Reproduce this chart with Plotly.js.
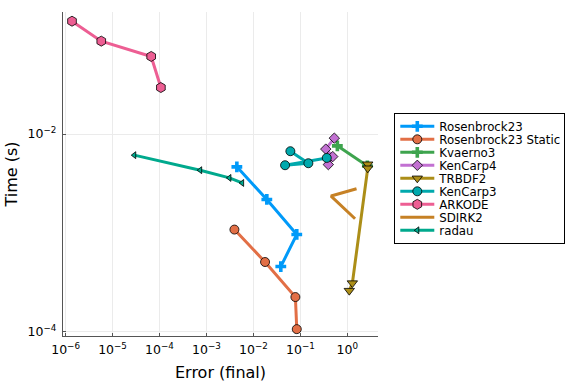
<!DOCTYPE html>
<html>
<head>
<meta charset="utf-8">
<script src="https://cdn.plot.ly/plotly-3.0.1.min.js"></script>
<style>html,body{margin:0;padding:0;background:#fff;}#plot{width:576px;height:384px;}</style>
</head>
<body>
<div id="plot"></div>
<script>
// Series names (legend order)
const seriesNames = ["Rosenbrock23", "Rosenbrock23 Static", "Kvaerno3", "KenCarp4", "TRBDF2", "KenCarp3", "ARKODE", "SDIRK2", "radau"];

// Error (final) values
const errRosenbrock23 = [4.44e-3, 0.0193, 0.0838, 0.0383];
const errRosenbrock23Static = [3.94e-3, 0.0177, 0.0783, 0.0838];
const errKvaerno3 = [0.613, 2.67];
const errKenCarp4 = [0.528, 0.347, 0.489, 0.394];
const errTRBDF2 = [2.72, 2.72, 1.28, 1.10];
const errKenCarp3 = [0.0612, 0.148, 0.0472, 0.365];
const errARKODE = [1.37e-6, 5.75e-6, 6.65e-5, 1.07e-4];
const errSDIRK2 = [1.57, 0.45, 1.46];
const errRadau = [2.9e-5, 7.35e-4, 3.08e-3, 5.75e-3];

// Time (s) values
const timeRosenbrock23 = [4.66e-3, 2.18e-3, 9.64e-4, 4.56e-4];
const timeRosenbrock23Static = [1.08e-3, 5.07e-4, 2.24e-4, 1.06e-4];
const timeKvaerno3 = [7.6e-3, 4.76e-3];
const timeKenCarp4 = [9.1e-3, 7.05e-3, 5.92e-3, 4.91e-3];
const timeTRBDF2 = [4.95e-3, 4.51e-3, 3.1e-4, 2.6e-4];
const timeKenCarp3 = [6.71e-3, 5.07e-3, 4.84e-3, 5.74e-3];
const timeARKODE = [0.139, 0.0873, 0.0611, 0.0296];
const timeSDIRK2 = [2.8e-3, 2.36e-3, 1.39e-3];
const timeRadau = [6.12e-3, 4.31e-3, 3.6e-3, 3.2e-3];

// Tick values and labels
const xTickVals = [1e-6, 1e-5, 1e-4, 1e-3, 1e-2, 1e-1, 1];
const xTickText = ["10<sup>−6</sup>", "10<sup>−5</sup>", "10<sup>−4</sup>", "10<sup>−3</sup>", "10<sup>−2</sup>", "10<sup>−1</sup>", "10<sup>0</sup>"];
const yTickVals = [1e-4, 1e-2];
const yTickText = ["10<sup>−4</sup>", "10<sup>−2</sup>"];

const errs = [errRosenbrock23, errRosenbrock23Static, errKvaerno3, errKenCarp4, errTRBDF2, errKenCarp3, errARKODE, errSDIRK2, errRadau];
const times = [timeRosenbrock23, timeRosenbrock23Static, timeKvaerno3, timeKenCarp4, timeTRBDF2, timeKenCarp3, timeARKODE, timeSDIRK2, timeRadau];

const colors = ["#009af9", "#e26f46", "#3ea44e", "#c271d2", "#ac8e18", "#00a9ad", "#ed5e93", "#c68125", "#00a98d"];
const symbols = ["cross", "circle", "cross", "diamond", "triangle-down", "circle", "hexagon", "circle", "triangle-left"];
const sizes = [9, 9, 9, 8, 9, 9, 10, 0, 6];
const outlined = [false, true, false, true, true, true, true, false, true];

const traces = seriesNames.map((name, i) => ({
  type: "scatter",
  mode: i === 7 ? "lines" : "lines+markers",
  name: name,
  x: errs[i],
  y: times[i],
  line: {color: colors[i], width: 3},
  marker: {
    symbol: symbols[i],
    size: sizes[i],
    color: colors[i],
    line: {color: outlined[i] ? "#000" : colors[i], width: outlined[i] ? 0.8 : 0}
  }
}));

const axisCommon = {
  type: "log",
  showgrid: true,
  gridcolor: "#ebebeb",
  gridwidth: 1,
  zeroline: false,
  showline: true,
  linecolor: "#555",
  linewidth: 1.2,
  ticks: "inside",
  ticklen: 3,
  tickcolor: "#555",
  tickfont: {family: "DejaVu Sans", size: 12.5, color: "#000"},
  mirror: false
};

const layout = {
  width: 576,
  height: 384,
  margin: {l: 63, r: 198, t: 12, b: 48, autoexpand: false},
  paper_bgcolor: "#fff",
  plot_bgcolor: "#fff",
  font: {family: "DejaVu Sans", size: 11, color: "#000"},
  xaxis: Object.assign({}, axisCommon, {
    range: [-6.055, 0.653],
    tickmode: "array",
    tickvals: xTickVals,
    ticktext: xTickText,
    ticklabelstandoff: 2,
    title: {text: "Error (final)", font: {family: "DejaVu Sans", size: 16}, standoff: 10}
  }),
  yaxis: Object.assign({}, axisCommon, {
    range: [-4.044, -0.764],
    tickmode: "array",
    tickvals: yTickVals,
    ticktext: yTickText,
    ticklabelstandoff: 3,
    title: {text: "Time (s)", font: {family: "DejaVu Sans", size: 16}, standoff: 5}
  }),
  legend: {
    x: 1.01, xanchor: "left",
    y: 0.487, yanchor: "middle",
    bgcolor: "#fff",
    bordercolor: "#000",
    borderwidth: 1,
    font: {family: "DejaVu Sans", size: 11.8},
    itemwidth: 34
  },
  showlegend: true
};

Plotly.newPlot("plot", traces, layout, {staticPlot: true, displayModeBar: false}).then(gd => {
  // tighten legend row spacing to match the compact reference legend
  const leg = gd.querySelector("g.legend");
  if (!leg) return;
  const rowGap = 13;
  const items = leg.querySelectorAll("g.traces");
  items.forEach((g, i) => {
    const tr = g.getAttribute("transform") || "";
    const m = /translate\(([^,\s]+)[,\s]+([^)]+)\)/.exec(tr);
    const x = m ? parseFloat(m[1]) : 1;
    g.setAttribute("transform", "translate(" + x + "," + (rowGap * (i + 1)) + ")");
  });
  const bg = leg.querySelector("rect.bg");
  if (bg) {
    bg.setAttribute("height", rowGap * (items.length + 1));
    bg.setAttribute("width", 170);
  }
  leg.setAttribute("transform", "translate(394.3,113.3)");
});
</script>
</body>
</html>
